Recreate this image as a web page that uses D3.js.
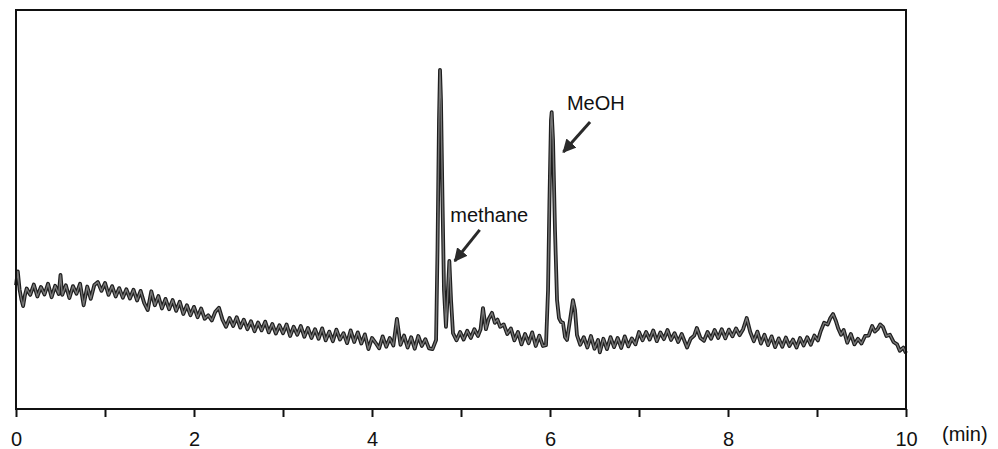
<!DOCTYPE html>
<html>
<head>
<meta charset="utf-8">
<script src="https://cdn.jsdelivr.net/npm/d3@7"></script>
<style>
  body { margin: 0; background: #fff; }
  svg { display: block; }
</style>
</head>
<body>
<svg id="chart" width="998" height="449"></svg>
<script>
// retention time (min) and detector signal (arb. units)
var minutes = [
  0.00, 0.02, 0.04, 0.06, 0.08, 0.10, 0.12, 0.16, 0.20, 0.24,
  0.28, 0.32, 0.36, 0.40, 0.44, 0.48, 0.50, 0.52, 0.56, 0.60,
  0.64, 0.68, 0.72, 0.76, 0.80, 0.84, 0.88, 0.92, 0.96, 1.00,
  1.04, 1.08, 1.12, 1.16, 1.20, 1.24, 1.28, 1.32, 1.36, 1.40,
  1.44, 1.48, 1.52, 1.56, 1.60, 1.64, 1.68, 1.72, 1.76, 1.80,
  1.84, 1.88, 1.92, 1.96, 2.00, 2.04, 2.08, 2.12, 2.16, 2.20,
  2.24, 2.28, 2.32, 2.36, 2.40, 2.44, 2.48, 2.52, 2.56, 2.60,
  2.64, 2.68, 2.72, 2.76, 2.80, 2.84, 2.88, 2.92, 2.96, 3.00,
  3.04, 3.08, 3.12, 3.16, 3.20, 3.24, 3.28, 3.32, 3.36, 3.40,
  3.44, 3.48, 3.52, 3.56, 3.60, 3.64, 3.68, 3.72, 3.76, 3.80,
  3.84, 3.88, 3.92, 3.96, 4.00, 4.04, 4.08, 4.12, 4.16, 4.20,
  4.24, 4.28, 4.32, 4.36, 4.40, 4.44, 4.48, 4.52, 4.56, 4.60,
  4.64, 4.68, 4.72, 4.736, 4.753, 4.764, 4.775, 4.792, 4.809, 4.831,
  4.848, 4.869, 4.888, 4.91, 4.95, 4.99, 5.03, 5.07, 5.11, 5.15,
  5.19, 5.22, 5.247, 5.28, 5.31, 5.348, 5.38, 5.41, 5.44, 5.48,
  5.52, 5.56, 5.60, 5.64, 5.68, 5.72, 5.76, 5.80, 5.84, 5.88,
  5.92, 5.955, 5.978, 5.994, 6.011, 6.019, 6.034, 6.056, 6.079, 6.101,
  6.124, 6.146, 6.169, 6.191, 6.225, 6.258, 6.281, 6.303, 6.34, 6.38,
  6.42, 6.46, 6.50, 6.54, 6.56, 6.60, 6.64, 6.68, 6.72, 6.76,
  6.80, 6.84, 6.88, 6.92, 6.96, 7.00, 7.04, 7.08, 7.12, 7.16,
  7.20, 7.24, 7.28, 7.32, 7.36, 7.40, 7.44, 7.48, 7.54, 7.58,
  7.62, 7.65, 7.69, 7.73, 7.77, 7.81, 7.85, 7.89, 7.93, 7.97,
  8.01, 8.05, 8.09, 8.13, 8.17, 8.21, 8.25, 8.29, 8.33, 8.37,
  8.41, 8.45, 8.49, 8.53, 8.57, 8.61, 8.65, 8.69, 8.73, 8.77,
  8.81, 8.85, 8.89, 8.93, 8.97, 9.01, 9.04, 9.08, 9.12, 9.15,
  9.18, 9.21, 9.24, 9.27, 9.30, 9.34, 9.38, 9.42, 9.46, 9.50,
  9.54, 9.58, 9.62, 9.65, 9.68, 9.71, 9.74, 9.78, 9.82, 9.86,
  9.90, 9.93, 9.97, 10.0
];

var signal = [
  31.0, 34.5, 30.0, 27.5, 25.8, 28.5, 30.2, 28.6, 31.2, 28.2,
  30.6, 28.7, 31.4, 28.0, 30.9, 28.8, 33.6, 28.6, 31.0, 27.8,
  30.8, 28.9, 31.4, 26.0, 30.7, 27.6, 31.1, 31.8, 29.6, 31.6,
  28.6, 30.8, 28.2, 30.3, 27.9, 30.0, 27.7, 29.9, 27.2, 29.6,
  26.6, 24.8, 29.5, 26.0, 28.3, 25.2, 27.6, 25.0, 27.3, 24.6,
  26.9, 23.8, 26.0, 23.5, 25.6, 23.0, 25.2, 22.6, 23.5, 22.2,
  24.4, 25.4, 22.4, 20.6, 22.8, 20.8, 23.0, 20.4, 22.4, 20.0,
  22.0, 19.5, 21.7, 19.7, 21.9, 19.2, 21.3, 18.9, 21.0, 19.0,
  21.2, 18.3, 20.6, 18.6, 20.8, 18.1, 20.3, 17.8, 20.0, 17.6,
  20.2, 17.2, 19.4, 17.0, 19.9, 17.4, 19.0, 16.5, 19.7, 16.8,
  19.2, 16.4, 18.7, 15.0, 17.8, 16.6, 15.2, 18.2, 15.6, 17.8,
  15.9, 22.6, 16.1, 18.4, 15.4, 18.0, 15.1, 18.3, 15.8, 17.5,
  15.2, 15.0, 17.3, 39.8, 72.4, 85.0, 77.4, 52.4, 29.8, 20.6,
  27.3, 37.1, 27.3, 19.0, 17.2, 19.3, 17.4, 19.6, 17.8, 20.0,
  18.3, 20.0, 25.3, 20.0, 22.5, 24.1, 21.6, 22.4, 20.6, 21.2,
  18.8, 20.2, 17.2, 19.3, 16.2, 18.8, 16.5, 19.2, 15.8, 18.4,
  15.8, 16.0, 29.8, 52.4, 72.4, 74.4, 67.4, 44.9, 27.3, 22.8,
  21.8, 21.6, 18.0, 17.3, 22.3, 27.3, 24.8, 18.5, 16.1, 18.0,
  15.4, 18.3, 15.1, 17.3, 14.2, 17.6, 15.0, 18.0, 15.5, 17.8,
  15.3, 18.2, 15.7, 17.7, 16.2, 19.3, 17.2, 19.3, 17.4, 19.7,
  17.0, 19.2, 17.5, 19.8, 17.3, 19.0, 16.8, 18.8, 15.4, 17.6,
  18.4, 20.3, 17.8, 17.1, 19.3, 17.6, 19.8, 17.8, 20.0, 17.7,
  19.9, 18.2, 20.2, 18.5, 20.0, 22.8, 19.3, 17.0, 19.4, 16.4,
  18.6, 16.0, 18.2, 15.5, 17.7, 15.6, 17.9, 15.8, 17.4, 15.4,
  17.8, 15.9, 18.0, 16.1, 18.4, 17.2, 19.4, 21.6, 21.2, 22.8,
  23.8, 22.2, 20.1, 18.6, 19.8, 16.6, 18.8, 16.2, 17.6, 16.4,
  18.3, 18.4, 20.8, 19.4, 20.0, 21.2, 20.6, 18.3, 18.6, 16.8,
  16.2, 14.6, 15.4, 14.0
];

var tickMinutes = [0, 1, 2, 3, 4, 5, 6, 7, 8, 9, 10];
var tickLabels = ["0", "", "2", "", "4", "", "6", "", "8", "", "10"];

// peak annotations: label, text anchor (min, signal), arrow tail, arrow tip
var peakNames = ["methane", "MeOH"];
var labelAt = [[4.88, 46.9], [6.19, 74.9]];
var arrowFrom = [[5.21, 44.9], [6.45, 71.9]];
var arrowTo = [[4.93, 37.1], [6.15, 64.4]];

var svg = d3.select("#chart");

var x = d3.scaleLinear().domain([0, 10]).range([16, 906]);
var y = d3.scaleLinear().domain([0, 100]).range([409, 10]);

var points = minutes.map(function(m, i) { return [m, signal[i]]; });

var line = d3.line()
  .x(function(d) { return x(d[0]); })
  .y(function(d) { return y(d[1]); });

// dark outer stroke + grey core gives the thick scanned look
svg.append("path")
  .datum(points)
  .attr("d", line)
  .attr("fill", "none")
  .attr("stroke", "#1e1e1e")
  .attr("stroke-width", 3.8)
  .attr("stroke-linejoin", "round");

svg.append("path")
  .datum(points)
  .attr("d", line)
  .attr("fill", "none")
  .attr("stroke", "#777")
  .attr("stroke-width", 1.4)
  .attr("stroke-linejoin", "round");

// plot frame
svg.append("rect")
  .attr("x", x(0))
  .attr("y", y(100))
  .attr("width", x(10) - x(0))
  .attr("height", y(0) - y(100))
  .attr("fill", "none")
  .attr("stroke", "#111")
  .attr("stroke-width", 2);

var xAxis = d3.axisBottom(x)
  .tickValues(tickMinutes)
  .tickSize(8)
  .tickPadding(15)
  .tickFormat(function(d, i) { return tickLabels[i]; });

var gx = svg.append("g")
  .attr("transform", "translate(0," + y(0) + ")")
  .call(xAxis);

gx.select(".domain").remove();
gx.selectAll(".tick line").attr("stroke", "#111").attr("stroke-width", 2);
gx.selectAll(".tick text")
  .attr("fill", "#111")
  .style("font-family", "'Liberation Sans', Arial, sans-serif")
  .style("font-size", "20px");

svg.append("text")
  .attr("x", 942)
  .attr("y", 441)
  .attr("fill", "#111")
  .style("font-family", "'Liberation Sans', Arial, sans-serif")
  .style("font-size", "20px")
  .text("(min)");

// arrowhead
svg.append("defs").append("marker")
  .attr("id", "head")
  .attr("viewBox", "0 0 10 10")
  .attr("refX", 9)
  .attr("refY", 5)
  .attr("markerWidth", 4.5)
  .attr("markerHeight", 4.5)
  .attr("markerUnits", "strokeWidth")
  .attr("orient", "auto")
  .append("path")
  .attr("d", "M0,0L10,5L0,10z")
  .attr("fill", "#2a2a2a");

peakNames.forEach(function(name, i) {
  svg.append("line")
    .attr("x1", x(arrowFrom[i][0]))
    .attr("y1", y(arrowFrom[i][1]))
    .attr("x2", x(arrowTo[i][0]))
    .attr("y2", y(arrowTo[i][1]))
    .attr("stroke", "#2a2a2a")
    .attr("stroke-width", 3)
    .attr("marker-end", "url(#head)");

  svg.append("text")
    .attr("x", x(labelAt[i][0]))
    .attr("y", y(labelAt[i][1]))
    .attr("fill", "#111")
    .style("font-family", "'Liberation Sans', Arial, sans-serif")
    .style("font-size", "20px")
    .text(name);
});
</script>
</body>
</html>
